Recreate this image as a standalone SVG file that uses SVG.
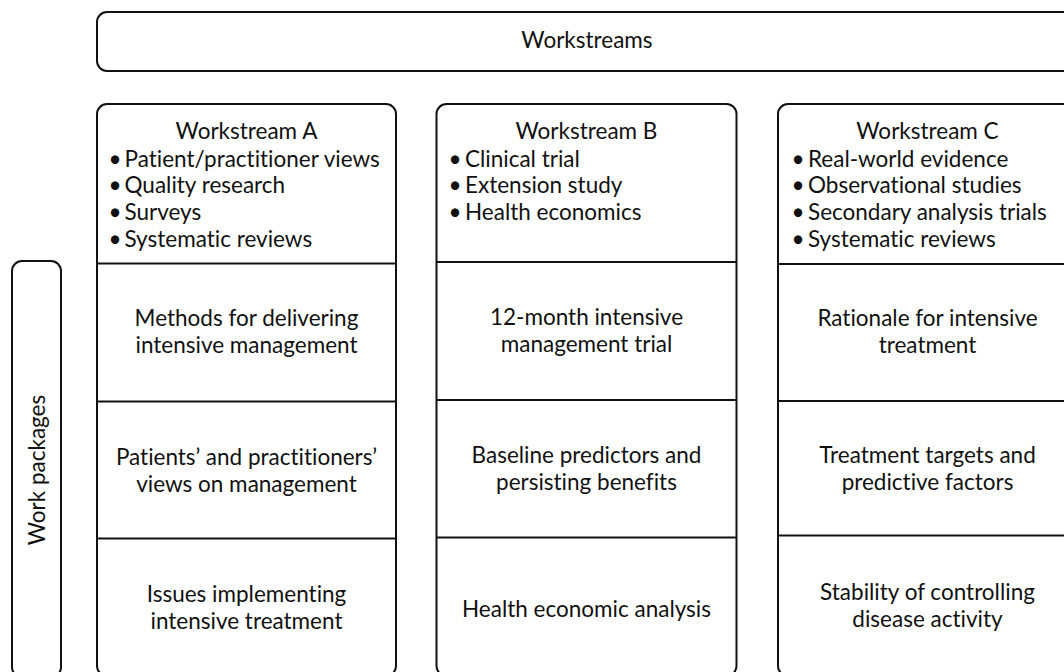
<svg xmlns="http://www.w3.org/2000/svg" width="1064" height="672" viewBox="0 0 1064 672">
<style>
.box{fill:#fff;stroke:#111;stroke-width:2}
.div{stroke:#111;stroke-width:2.2}
text{font-family:Lato,"Noto Sans","Liberation Sans",sans-serif;font-size:22.5px;fill:#111;font-variant-ligatures:none}
.c{text-anchor:middle}
</style>
<rect width="1064" height="672" fill="#fff"/>
<g id="workstreams">
<rect class="box" x="97" y="12" width="980" height="59" rx="10"/>
<text class="c" x="587" y="47.5">Workstreams</text>
</g>
<g id="work-packages">
<rect class="box" x="12" y="261" width="49" height="416" rx="10"/>
<text class="c" transform="translate(44.5,470) rotate(-90)">Work packages</text>
</g>
<g id="workstream-a">
<rect class="box" x="97" y="104" width="299" height="572" rx="10"/>
<text class="c" x="246.5" y="139.3">Workstream A</text>
<text y="166.5"><tspan x="108.5">•</tspan><tspan x="124.5">Patient/practitioner views</tspan></text>
<text y="193.3"><tspan x="108.5">•</tspan><tspan x="124.5">Quality research</tspan></text>
<text y="220.1"><tspan x="108.5">•</tspan><tspan x="124.5">Surveys</tspan></text>
<text y="246.9"><tspan x="108.5">•</tspan><tspan x="124.5">Systematic reviews</tspan></text>
</g>
<g id="wp-a1"><text class="c" x="246.5" y="326">Methods for delivering</text><text class="c" x="246.5" y="353">intensive management</text></g>
<g id="wp-a2"><text class="c" x="246.5" y="464.5">Patients’ and practitioners’</text><text class="c" x="246.5" y="491.5">views on management</text></g>
<g id="wp-a3"><text class="c" x="246.5" y="601.7">Issues implementing</text><text class="c" x="246.5" y="628.5">intensive treatment</text></g>
<g id="workstream-b">
<rect class="box" x="436.5" y="104" width="300" height="572" rx="10"/>
<text class="c" x="586.5" y="139.3">Workstream B</text>
<text y="166.5"><tspan x="448.5">•</tspan><tspan x="465">Clinical trial</tspan></text>
<text y="193.3"><tspan x="448.5">•</tspan><tspan x="465">Extension study</tspan></text>
<text y="220.1"><tspan x="448.5">•</tspan><tspan x="465">Health economics</tspan></text>
</g>
<g id="wp-b1"><text class="c" x="586.5" y="325">12-month intensive</text><text class="c" x="586.5" y="352">management trial</text></g>
<g id="wp-b2"><text class="c" x="586.5" y="463">Baseline predictors and</text><text class="c" x="586.5" y="490">persisting benefits</text></g>
<g id="wp-b3"><text class="c" x="586.5" y="616.5">Health economic analysis</text></g>
<g id="workstream-c">
<rect class="box" x="778" y="104" width="299" height="572" rx="10"/>
<text class="c" x="927.5" y="139.3">Workstream C</text>
<text y="166.5"><tspan x="791.5">•</tspan><tspan x="808">Real-world evidence</tspan></text>
<text y="193.3"><tspan x="791.5">•</tspan><tspan x="808">Observational studies</tspan></text>
<text y="220.1"><tspan x="791.5">•</tspan><tspan x="808">Secondary analysis trials</tspan></text>
<text y="246.9"><tspan x="791.5">•</tspan><tspan x="808">Systematic reviews</tspan></text>
</g>
<g id="wp-c1"><text class="c" x="927.5" y="326">Rationale for intensive</text><text class="c" x="927.5" y="353">treatment</text></g>
<g id="wp-c2"><text class="c" x="927.5" y="463">Treatment targets and</text><text class="c" x="927.5" y="490">predictive factors</text></g>
<g id="wp-c3"><text class="c" x="927.5" y="600">Stability of controlling</text><text class="c" x="927.5" y="627">disease activity</text></g>
<g id="connectors">
<line class="div" x1="97" y1="263.5" x2="396" y2="263.5"/>
<line class="div" x1="97" y1="401.5" x2="396" y2="401.5"/>
<line class="div" x1="97" y1="538.5" x2="396" y2="538.5"/>
<line class="div" x1="436.5" y1="262" x2="736.5" y2="262"/>
<line class="div" x1="436.5" y1="400" x2="736.5" y2="400"/>
<line class="div" x1="436.5" y1="537.5" x2="736.5" y2="537.5"/>
<line class="div" x1="778" y1="264" x2="1077" y2="264"/>
<line class="div" x1="778" y1="401" x2="1077" y2="401"/>
<line class="div" x1="778" y1="535.5" x2="1077" y2="535.5"/>
</g>
</svg>
